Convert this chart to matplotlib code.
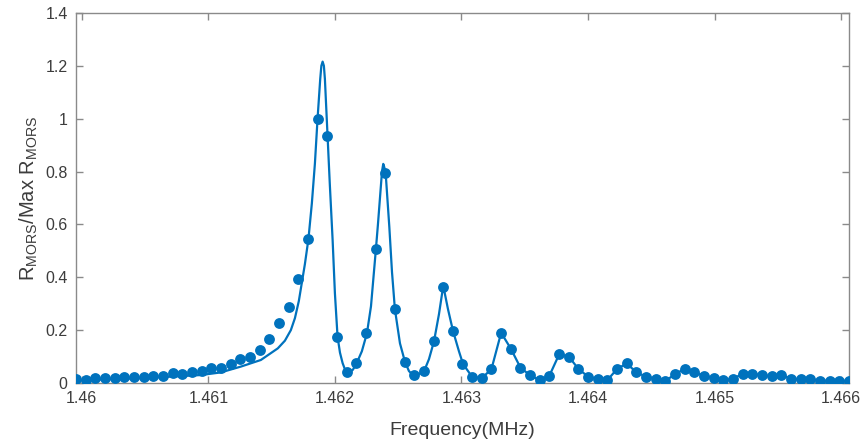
import matplotlib

matplotlib.use("Agg")
import matplotlib.pyplot as plt
import numpy as np

# measured response, uniform frequency sweep (MHz)
freq = np.linspace(1.459955, 1.466061, 81)
resp = [
    0.015, 0.010, 0.019, 0.019, 0.020, 0.023, 0.023, 0.024, 0.025, 0.025,
    0.038, 0.034, 0.043, 0.047, 0.055, 0.058, 0.071, 0.092, 0.100, 0.125,
    0.165, 0.226, 0.289, 0.393, 0.545, 1.000, 0.935, 0.175, 0.043, 0.077,
    0.188, 0.507, 0.794, 0.279, 0.081, 0.029, 0.044, 0.158, 0.362, 0.197,
    0.072, 0.023, 0.018, 0.053, 0.190, 0.130, 0.058, 0.029, 0.010, 0.028,
    0.108, 0.100, 0.053, 0.024, 0.014, 0.011, 0.053, 0.074, 0.040, 0.024,
    0.016, 0.008, 0.033, 0.054, 0.042, 0.026, 0.020, 0.010, 0.016, 0.035,
    0.035, 0.029, 0.025, 0.030, 0.016, 0.015, 0.014, 0.009, 0.009, 0.009,
    0.008,
]

# fitted curve over the main resonances; beyond that it follows the data
fit_freq = [
    1.459960, 1.460466, 1.460941, 1.461099, 1.461257, 1.461415, 1.461549,
    1.461605, 1.461652, 1.461684, 1.461715, 1.461739, 1.461763, 1.461791,
    1.461818, 1.461842, 1.461863, 1.461884, 1.461893, 1.461903, 1.461913,
    1.461921, 1.461942, 1.461960, 1.461982, 1.462000, 1.462021, 1.462040,
    1.462061, 1.462079, 1.462099, 1.462119, 1.462142, 1.462174, 1.462213,
    1.462253, 1.462285, 1.462324, 1.462340, 1.462356, 1.462372, 1.462382,
    1.462391, 1.462403, 1.462430, 1.462451, 1.462474, 1.462514, 1.462553,
    1.462585, 1.462609, 1.462648, 1.462704, 1.462743, 1.462783, 1.462822,
    1.462856, 1.462893, 1.462933, 1.462980, 1.463012,
]
fit_resp = [
    0.010, 0.018, 0.030, 0.040, 0.062, 0.087, 0.131,
    0.160, 0.200, 0.245, 0.310, 0.380, 0.450, 0.545,
    0.680, 0.830, 1.000, 1.150, 1.200, 1.216, 1.200,
    1.150, 0.935, 0.750, 0.541, 0.340, 0.175, 0.115,
    0.075, 0.052, 0.040, 0.042, 0.050, 0.077, 0.120,
    0.188, 0.290, 0.507, 0.600, 0.700, 0.800, 0.829,
    0.815, 0.780, 0.590, 0.420, 0.279, 0.150, 0.081,
    0.045, 0.033, 0.030, 0.044, 0.090, 0.158, 0.260,
    0.368, 0.280, 0.197, 0.120, 0.072,
]
fit_freq = list(fit_freq) + list(freq[41:])
fit_resp = list(fit_resp) + list(resp[41:])

xticks = [1.460, 1.461, 1.462, 1.463, 1.464, 1.465, 1.466]
xticklabels = ["1.46", "1.461", "1.462", "1.463", "1.464", "1.465", "1.466"]
yticks = [0, 0.2, 0.4, 0.6, 0.8, 1.0, 1.2, 1.4]
yticklabels = ["0", "0.2", "0.4", "0.6", "0.8", "1", "1.2", "1.4"]

plt.rcParams["font.family"] = ["Liberation Sans", "DejaVu Sans"]
plt.rcParams["mathtext.fontset"] = "custom"
plt.rcParams["mathtext.rm"] = "Liberation Sans"

blue = "#0072BD"
grey = "#8a8a8a"
text_col = "#3c3c3c"

fig = plt.figure(figsize=(8.64, 4.46), dpi=100)
ax = fig.add_axes([0.088, 0.1413, 0.8946, 0.8296])

ax.plot(fit_freq, fit_resp, color=blue, linewidth=1.6, zorder=2)
ax.plot(freq, resp, linestyle="none", marker="o", markersize=7.8,
        color=blue, markeredgewidth=0, zorder=3)

ax.set_xlim(freq[0], freq[-1])
ax.set_ylim(0, 1.4)
ax.set_xticks(xticks)
ax.set_xticklabels(xticklabels)
ax.set_yticks(yticks)
ax.set_yticklabels(yticklabels)

for s in ax.spines.values():
    s.set_color(grey)
    s.set_linewidth(1.0)
ax.tick_params(direction="in", length=5, width=1.0, color=grey,
               labelsize=11.5, labelcolor=text_col, pad=6,
               top=True, right=True)

ax.set_xlabel("Frequency(MHz)", fontsize=14, color=text_col, labelpad=11)
ax.set_ylabel(r"R$\mathregular{_{MORS}}$/Max R$\mathregular{_{MORS}}$",
              fontsize=14.5, color=text_col, labelpad=4)

fig.savefig("out.png", dpi=100)
plt.close(fig)
